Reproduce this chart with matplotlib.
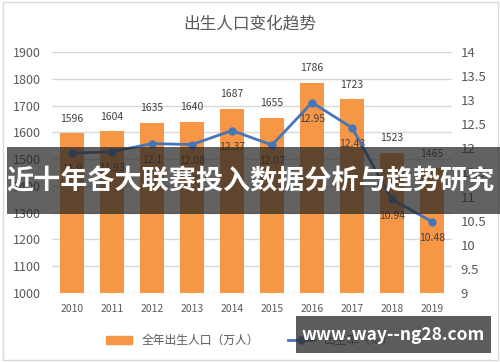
import matplotlib.pyplot as plt
from matplotlib.patches import Rectangle
from matplotlib.lines import Line2D

plt.rcParams['font.family'] = ['Noto Sans CJK SC', 'DejaVu Sans']

years = ["2010", "2011", "2012", "2013", "2014", "2015", "2016", "2017", "2018", "2019"]
births = [1596, 1604, 1635, 1640, 1687, 1655, 1786, 1723, 1523, 1465]
birth_rate = [11.9, 11.93, 12.1, 12.08, 12.37, 12.07, 12.95, 12.43, 10.94, 10.48]
left_ticks = [1000, 1100, 1200, 1300, 1400, 1500, 1600, 1700, 1800, 1900]
right_ticks = [9, 9.5, 10, 10.5, 11, 11.5, 12, 12.5, 13, 13.5, 14]

bar_color = "#F79646"
line_color = "#4676B8"
text_color = "#595959"

fig = plt.figure(figsize=(5, 3.62), dpi=100)
ax = fig.add_axes([0.104, 0.1906, 0.8, 0.6658])
ax2 = ax.twinx()

x = list(range(len(years)))
ax.bar(x, births, width=0.58, color=bar_color, zorder=2)
for xi, v in zip(x, births):
    ax.annotate(str(v), (xi, v), xytext=(0, 7), textcoords="offset points",
                ha="center", va="bottom", fontsize=7.5, color="#404040")

ax.set_ylim(1000, 1900)
ax.set_yticks(left_ticks)
ax.set_xlim(-0.5, len(years) - 0.5)
ax.set_xticks(x)
ax.set_xticklabels(years)
ax.grid(axis="y", color="#D9D9D9", linewidth=1, zorder=0)
ax.set_axisbelow(True)
ax.tick_params(axis="y", length=0, labelsize=9, labelcolor=text_color, pad=8)
ax.tick_params(axis="x", length=0, labelsize=7.5, labelcolor=text_color, pad=8)

ax2.plot(x, birth_rate, color=line_color, linewidth=2, marker="o", markersize=5, zorder=3)
for xi, v in zip(x, birth_rate):
    ax2.annotate(f"{v:g}", (xi, v), xytext=(0, -8), textcoords="offset points",
                 ha="center", va="top", fontsize=7.5, color="#404040")
ax2.set_ylim(9, 14)
ax2.set_yticks(right_ticks)
ax2.set_yticklabels([f"{t:g}" for t in right_ticks])
ax2.tick_params(axis="y", length=0, labelsize=9.5, labelcolor=text_color, pad=6)

for a in (ax, ax2):
    for s in a.spines.values():
        s.set_visible(False)

fig.text(0.5, 0.935, "出生人口变化趋势", ha="center", va="center",
         fontsize=12, color=text_color)

handles = [
    Rectangle((0, 0), 1, 1, color=bar_color),
    Line2D([0], [0], color=line_color, linewidth=2, marker="o", markersize=5),
]
fig.legend(handles, ["全年出生人口（万人）", "出生率（‰）"], loc="center",
           bbox_to_anchor=(0.5, 0.06), ncol=2, frameon=False, fontsize=8.5,
           labelcolor=text_color, handlelength=2.2, columnspacing=2.5)

# outer frame
fig.add_artist(Rectangle((0.005, 0.006), 0.99, 0.988, transform=fig.transFigure,
                         fill=False, edgecolor="#D9D9D9", linewidth=1))

# overlay banner
fig.add_artist(Rectangle((0.014, 1 - 214 / 362), 0.986, 67 / 362, transform=fig.transFigure,
                         facecolor="#262626", alpha=0.72, edgecolor="none", zorder=10))
fig.text(0.5, 1 - 181 / 362, "近十年各大联赛投入数据分析与趋势研究", ha="center", va="center",
         fontsize=19.5, color="white", fontweight="bold", zorder=11)

# watermark
fig.add_artist(Rectangle((296 / 500, 1 - 353 / 362), 195 / 500, 37 / 362, transform=fig.transFigure,
                         facecolor="#333333", alpha=0.8, edgecolor="none", zorder=10))
fig.text(393 / 500, 1 - 335 / 362, "www.way--ng28.com", ha="center", va="center",
         fontsize=12.5, color="white", fontweight="bold", zorder=11)

fig.savefig("out.png", dpi=100)
